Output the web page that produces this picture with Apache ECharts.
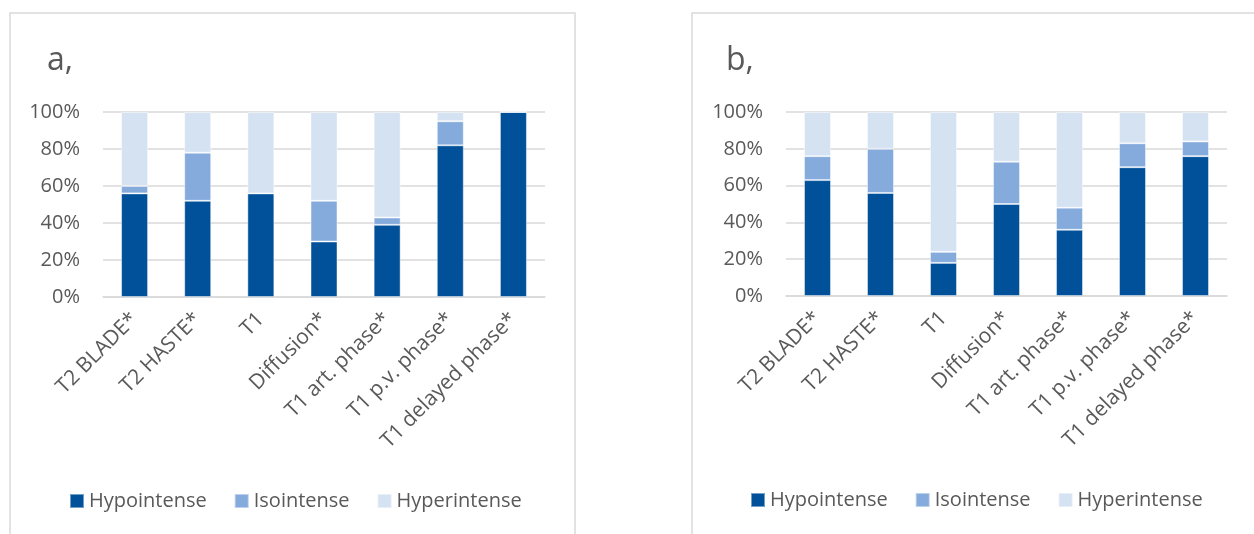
<!DOCTYPE html>
<html>
<head>
<meta charset="utf-8">
<title>Signal intensity</title>
<script src="https://cdn.jsdelivr.net/npm/echarts@6/dist/echarts.min.js"></script>
<style>
  html, body { margin: 0; padding: 0; background: #fff; }
  #main { width: 1254px; height: 534px; }
</style>
</head>
<body>
<div id="main"></div>
<script>
// sequences on the x axis (same for both panels)
const categories = [
  "T2 BLADE*", "T2 HASTE*", "T1", "Diffusion*",
  "T1 art. phase*", "T1 p.v. phase*", "T1 delayed phase*"
];
const yTicks = [0, 20, 40, 60, 80, 100];

// panel a (percent)
const hypoA = [56, 52, 56, 30, 39, 82, 100];
const isoA = [4, 26, 0, 22, 4, 13, 0];
const hyperA = [40, 22, 44, 48, 57, 5, 0];

// panel b (percent)
const hypoB = [63, 56, 18, 50, 36, 70, 76];
const isoB = [13, 24, 6, 23, 12, 13, 8];
const hyperB = [24, 20, 76, 27, 52, 17, 16];

const seriesNames = ["Hypointense", "Isointense", "Hyperintense"];
const colors = ["#01519a", "#85abdd", "#d5e2f2"];

const textColor = "#595959";
const gridColor = "#d9d9d9";
const font = "'Open Sans', sans-serif";

const chart = echarts.init(document.getElementById("main"));

function xAxisFor(idx) {
  return {
    type: "category",
    gridIndex: idx,
    data: categories,
    axisLine: { show: true, lineStyle: { color: gridColor, width: 1.5 } },
    axisTick: { show: false },
    axisLabel: {
      rotate: 45,
      margin: 19,
      interval: 0,
      color: textColor,
      fontSize: 21,
      fontFamily: font
    }
  };
}

function yAxisFor(idx) {
  return {
    type: "value",
    gridIndex: idx,
    min: yTicks[0],
    max: yTicks[yTicks.length - 1],
    interval: 20,
    axisLine: { show: false },
    axisTick: { show: false },
    splitLine: { lineStyle: { color: gridColor, width: 1.5 } },
    axisLabel: {
      margin: 23,
      color: textColor,
      fontSize: 20,
      fontFamily: font,
      formatter: "{value}%"
    }
  };
}

function barsFor(idx, groups) {
  return groups.map((vals, i) => ({
    name: seriesNames[i],
    type: "bar",
    stack: "s" + idx,
    xAxisIndex: idx,
    yAxisIndex: idx,
    barWidth: 27,
    data: vals,
    itemStyle: {
      color: colors[i],
      borderColor: "rgba(255,255,255,0.45)",
      borderWidth: 1
    }
  }));
}

const legendBase = {
  data: seriesNames,
  itemWidth: 14,
  itemHeight: 14,
  itemGap: 27,
  icon: "rect",
  textStyle: { color: textColor, fontSize: 20, fontFamily: font }
};

const option = {
  animation: false,
  color: colors,
  graphic: [
    {
      type: "rect",
      shape: { x: 10, y: 13, width: 565, height: 600 },
      style: { fill: "none", stroke: gridColor, lineWidth: 1.5 }
    },
    {
      type: "rect",
      shape: { x: 692, y: 13, width: 620, height: 600 },
      style: { fill: "none", stroke: gridColor, lineWidth: 1.5 }
    }
  ],
  title: [
    {
      text: "a,",
      left: 42,
      top: 40,
      textStyle: { color: textColor, fontSize: 32, fontWeight: "normal", fontFamily: font }
    },
    {
      text: "b,",
      left: 721,
      top: 40,
      textStyle: { color: textColor, fontSize: 32, fontWeight: "normal", fontFamily: font }
    }
  ],
  legend: [
    Object.assign({}, legendBase, { left: 64, top: 486 }),
    Object.assign({}, legendBase, { left: 745, top: 485 })
  ],
  grid: [
    { left: 103, top: 112, width: 442, height: 185 },
    { left: 786, top: 112, width: 441, height: 184 }
  ],
  xAxis: [xAxisFor(0), xAxisFor(1)],
  yAxis: [yAxisFor(0), yAxisFor(1)],
  series: barsFor(0, [hypoA, isoA, hyperA]).concat(barsFor(1, [hypoB, isoB, hyperB]))
};

chart.setOption(option);
</script>
</body>
</html>
